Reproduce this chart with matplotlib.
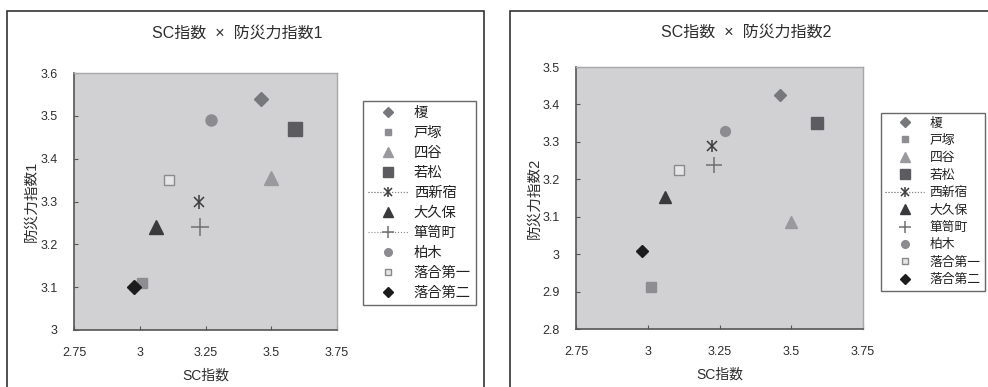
import numpy as np
import matplotlib.pyplot as plt
from matplotlib.lines import Line2D
from matplotlib.patches import Rectangle
from matplotlib.legend_handler import HandlerTuple

plt.rcParams['font.family'] = ['Liberation Sans', 'Noto Sans CJK JP']

areas = ['榎', '戸塚', '四谷', '若松', '西新宿', '大久保', '箪笥町', '柏木', '落合第一', '落合第二']
sc_index = [3.46, 3.01, 3.50, 3.59, 3.225, 3.06, 3.23, 3.27, 3.11, 2.98]
bousai_1 = [3.54, 3.11, 3.355, 3.47, 3.30, 3.24, 3.24, 3.49, 3.35, 3.10]
bousai_2 = [3.425, 2.913, 3.085, 3.35, 3.29, 3.153, 3.238, 3.328, 3.224, 3.008]

# marker, face colour, edge colour, size in plot, size in legend
# 'star' = x with a vertical bar through it
styles = [
    ('D', '#76787c', '#76787c', 7, 5),
    ('s', '#8e8e92', '#8e8e92', 7.5, 5),
    ('^', '#9a9a9e', '#9a9a9e', 9.5, 6.5),
    ('s', '#5c5c60', '#5c5c60', 10, 6.5),
    ('star', '#3c3c3e', '#3c3c3e', 9.5, 7.5),
    ('^', '#3a3a3c', '#3a3a3c', 9.5, 6.5),
    ('+', '#707072', '#707072', 12.5, 9),
    ('o', '#8c8c90', '#8c8c90', 8, 5.5),
    ('s', '#e6e6e6', '#8a8a8c', 7.5, 5),
    ('D', '#1c1c1c', '#1c1c1c', 7, 5),
]

W, H = 988, 387
fig = plt.figure(figsize=(W / 100, H / 100), dpi=100)


def fx(px):
    return px / W


def fy(py):
    return 1 - py / H


def marker_lines(i, x, y, ms, **kw):
    m, fc, ec, _, _ = styles[i]
    lw = 1.1 if m in ('+', 'star') else 1.0
    if m == 'star':
        return [Line2D(x, y, marker='x', markersize=ms * 0.8, markeredgecolor=ec,
                       markeredgewidth=lw, **kw),
                Line2D(x, y, marker='|', markersize=ms * 1.05, markeredgecolor=ec,
                       markeredgewidth=lw, **kw)]
    return [Line2D(x, y, marker=m, markersize=ms, markerfacecolor=fc,
                   markeredgecolor=ec, markeredgewidth=lw, **kw)]


def draw_panel(rect, yvals, ylim, yticks, title, ylabel, dotted, leg_opts, frame, scale):
    fig.patches.append(Rectangle((fx(frame[0]), fy(frame[3])), fx(frame[2] - frame[0]),
                                 (frame[3] - frame[1]) / H, transform=fig.transFigure,
                                 fill=False, edgecolor='#333333', linewidth=1.2))
    ax = fig.add_axes([fx(rect[0]), fy(rect[3]), fx(rect[2] - rect[0]), (rect[3] - rect[1]) / H])
    ax.set_facecolor('#d1d1d3')
    for i in range(len(areas)):
        for ln in marker_lines(i, [sc_index[i]], [yvals[i]], styles[i][3] * scale,
                               linestyle='none', zorder=3):
            ax.add_line(ln)
    ax.set_xlim(2.75, 3.75)
    ax.set_xticks([2.75, 3, 3.25, 3.5, 3.75])
    ax.set_xticklabels(['2.75', '3', '3.25', '3.5', '3.75'])
    ax.set_ylim(*ylim)
    ax.set_yticks(yticks)
    ax.set_yticklabels([('%g' % t) for t in yticks])
    ax.tick_params(direction='in', length=3, width=0.8, colors='#555555',
                   labelcolor='#2e2e2e', labelsize=9, pad=12)
    for s in ('left', 'bottom'):
        ax.spines[s].set_color('#555555')
        ax.spines[s].set_linewidth(1.2)
    for s in ('top', 'right'):
        ax.spines[s].set_color('#a8a8aa')
        ax.spines[s].set_linewidth(1.0)
    ax.set_xlabel('SC指数', fontsize=10, color='#2e2e2e', labelpad=7)
    ax.set_ylabel(ylabel, fontsize=10.5, color='#2e2e2e', labelpad=title[3])
    fig.text(fx(title[1]), fy(title[2]), title[0], ha='center', va='center',
             fontsize=11.5, color='#2e2e2e')

    handles = []
    for i, name in enumerate(areas):
        parts = marker_lines(i, [], [], styles[i][4], color='#8a8a8a', linewidth=0.8,
                             linestyle=':' if name in dotted else 'none')
        handles.append(tuple(parts) if len(parts) > 1 else parts[0])
    leg = ax.legend(handles, areas, loc='upper left',
                    bbox_to_anchor=(fx(leg_opts['x']), fy(leg_opts['y'])),
                    bbox_transform=fig.transFigure, fontsize=leg_opts['size'],
                    frameon=True, fancybox=False, edgecolor='#444444',
                    handlelength=leg_opts['hl'], handletextpad=leg_opts['tp'],
                    labelspacing=leg_opts['ls'], borderpad=0.35, borderaxespad=0,
                    handler_map={tuple: HandlerTuple(ndivide=1)})
    leg.get_frame().set_linewidth(1.0)
    for t in leg.get_texts():
        t.set_color('#222222')
    return ax


draw_panel((74, 73, 337, 330), bousai_1, (3.0, 3.6), [3, 3.1, 3.2, 3.3, 3.4, 3.5, 3.6],
           ('SC指数  ×  防災力指数1', 237, 33, 1), '防災力指数1', ['西新宿', '箪笥町'],
           dict(x=363, y=101, size=10.3, hl=2.8, tp=0.4, ls=0.42),
           (7, 11, 484, 400), 1.0)
draw_panel((576, 67, 863, 329), bousai_2, (2.8, 3.5), [2.8, 2.9, 3, 3.1, 3.2, 3.3, 3.4, 3.5],
           ('SC指数  ×  防災力指数2', 746, 32, 0), '防災力指数2', ['西新宿'],
           dict(x=881, y=113, size=9.2, hl=3.0, tp=0.45, ls=0.42),
           (510, 11, 1000, 400), 0.88)

fig.savefig('out.png', dpi=100)
